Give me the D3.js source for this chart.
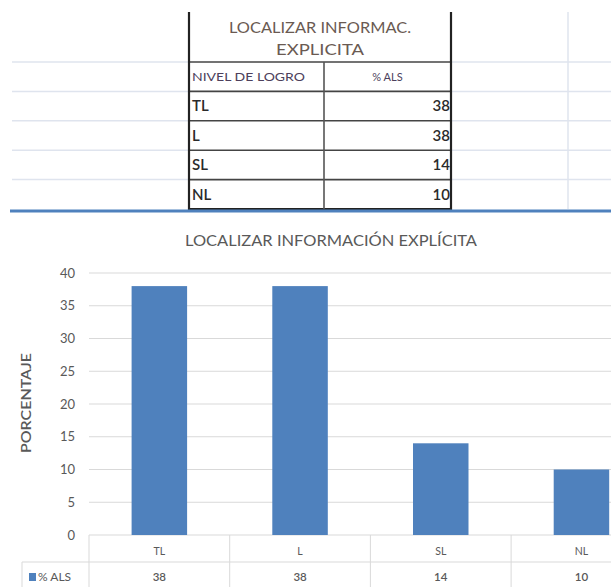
<!DOCTYPE html>
<html>
<head>
<meta charset="utf-8">
<script src="https://cdn.jsdelivr.net/npm/d3@7"></script>
<style>
  body { margin: 0; background: #fff; }
  text { font-family: Lato, "Open Sans", sans-serif; }
</style>
</head>
<body>
<div id="canva"></div>
<script>
// data
var categories = ["TL", "L", "SL", "NL"];
var values = [38, 38, 14, 10];
var seriesName = "% ALS";
var yTicks = [0, 5, 10, 15, 20, 25, 30, 35, 40];
var tableTitle = ["LOCALIZAR INFORMAC.", "EXPLICITA"];
var tableHead = ["NIVEL DE LOGRO", "% ALS"];
var chartTitle = "LOCALIZAR INFORMACIÓN EXPLÍCITA";
var yTitle = "PORCENTAJE";

var W = 611, H = 587;
var svg = d3.select("#canva").append("svg")
  .attr("width", W).attr("height", H);

// ---------- spreadsheet part ----------
var rows = d3.scaleBand().domain(["head"].concat(categories)).range([62, 209]);
var gridCol = "#dfe4ee";

// sheet gridlines
svg.selectAll(".sheetLine")
  .data(rows.domain())
  .enter().append("line")
  .attr("x1", 12).attr("x2", W)
  .attr("y1", function(d) { return rows(d); })
  .attr("y2", function(d) { return rows(d); })
  .attr("stroke", gridCol).attr("stroke-width", 1.5);
svg.append("line")
  .attr("x1", 568).attr("x2", 568).attr("y1", 12).attr("y2", 209)
  .attr("stroke", gridCol).attr("stroke-width", 1.5);

// table box
var tx0 = 189, tx1 = 451, tmid = 324;
svg.append("rect").attr("x", tx0).attr("y", 12)
  .attr("width", tx1 - tx0).attr("height", 209 - 12)
  .attr("fill", "#fff");
svg.selectAll(".rowLine")
  .data(rows.domain())
  .enter().append("line")
  .attr("x1", tx0).attr("x2", tx1)
  .attr("y1", function(d) { return rows(d); })
  .attr("y2", function(d) { return rows(d); })
  .attr("stroke", "#444").attr("stroke-width", 1.6);
svg.append("line").attr("x1", tx0).attr("x2", tx0).attr("y1", 12).attr("y2", 210)
  .attr("stroke", "#222").attr("stroke-width", 2.2);
svg.append("line").attr("x1", tx1).attr("x2", tx1).attr("y1", 12).attr("y2", 210)
  .attr("stroke", "#222").attr("stroke-width", 2.2);
svg.append("line").attr("x1", tx0).attr("x2", tx1).attr("y1", 209).attr("y2", 209)
  .attr("stroke", "#222").attr("stroke-width", 2.2);
svg.append("line").attr("x1", tmid).attr("x2", tmid).attr("y1", 62).attr("y2", 209)
  .attr("stroke", "#555").attr("stroke-width", 1.6);

svg.selectAll(".tTitle")
  .data(tableTitle)
  .enter().append("text")
  .attr("x", (tx0 + tx1) / 2)
  .attr("y", function(d, i) { return 28 + i * 22; })
  .attr("dy", "0.35em")
  .attr("text-anchor", "middle")
  .attr("font-size", 15)
  .attr("textLength", function(d, i) { return i === 0 ? 182 : 88; })
  .attr("lengthAdjust", "spacingAndGlyphs")
  .attr("fill", "#6a5a52")
  .text(function(d) { return d; });

svg.append("text").attr("x", tx0 + 3).attr("y", rows("head") + rows.bandwidth() / 2)
  .attr("dy", "0.35em").attr("font-size", 11).attr("fill", "#4d3f5c")
  .attr("textLength", 113).attr("lengthAdjust", "spacingAndGlyphs")
  .text(tableHead[0]);
svg.append("text").attr("x", (tmid + tx1) / 2).attr("y", rows("head") + rows.bandwidth() / 2)
  .attr("dy", "0.35em").attr("text-anchor", "middle").attr("font-size", 11).attr("fill", "#4d3f5c")
  .text(tableHead[1]);

svg.selectAll(".tCat")
  .data(categories)
  .enter().append("text")
  .attr("x", tx0 + 3)
  .attr("y", function(d) { return rows(d) + rows.bandwidth() / 2; })
  .attr("dy", "0.35em").attr("font-size", 15).attr("font-weight", 600).attr("fill", "#2a2a2a")
  .text(function(d) { return d; });
svg.selectAll(".tVal")
  .data(values)
  .enter().append("text")
  .attr("x", tx1 - 1)
  .attr("y", function(d, i) { return rows(categories[i]) + rows.bandwidth() / 2; })
  .attr("dy", "0.35em").attr("text-anchor", "end").attr("font-size", 15).attr("font-weight", 600).attr("fill", "#2a2a2a")
  .text(function(d) { return d; });

// blue separator line
svg.append("line").attr("x1", 10).attr("x2", W).attr("y1", 211).attr("y2", 211)
  .attr("stroke", "#4f81bd").attr("stroke-width", 3);

// ---------- chart part ----------
var x = d3.scaleBand().domain(categories).range([89, 89 + 4 * 140.7]).paddingInner(0).paddingOuter(0);
var y = d3.scaleLinear().domain([0, 40]).range([535, 273]);
var barW = 55.5;

svg.append("text")
  .attr("x", 331).attr("y", 241).attr("dy", "0.35em")
  .attr("text-anchor", "middle").attr("font-size", 15).attr("fill", "#595959")
  .attr("textLength", 292).attr("lengthAdjust", "spacingAndGlyphs")
  .text(chartTitle);

svg.selectAll(".grid")
  .data(yTicks)
  .enter().append("line")
  .attr("x1", 89).attr("x2", W)
  .attr("y1", function(d) { return y(d); })
  .attr("y2", function(d) { return y(d); })
  .attr("stroke", "#d9d9d9").attr("stroke-width", 1);

var yAxis = d3.axisLeft(y).tickValues(yTicks).tickSize(0).tickPadding(0);
var gy = svg.append("g").attr("transform", "translate(75,0)").call(yAxis);
gy.select(".domain").remove();
gy.selectAll("text").attr("font-size", 13).attr("fill", "#595959")
  .attr("font-family", "Lato, sans-serif");

svg.append("text")
  .attr("transform", "translate(26,403) rotate(-90)")
  .attr("dy", "0.35em").attr("text-anchor", "middle")
  .attr("font-size", 14).attr("font-weight", 600).attr("fill", "#595959")
  .attr("textLength", 100).attr("lengthAdjust", "spacingAndGlyphs")
  .text(yTitle);

svg.selectAll(".bar")
  .data(values)
  .enter().append("rect")
  .attr("x", function(d, i) { return x(categories[i]) + x.bandwidth() / 2 - barW / 2; })
  .attr("y", function(d) { return y(d); })
  .attr("width", barW)
  .attr("height", function(d) { return y(0) - y(d); })
  .attr("fill", "#4f81bd");

// data table under the chart
var lineCol = "#d9d9d9";
svg.append("line").attr("x1", 22).attr("x2", W).attr("y1", 562).attr("y2", 562)
  .attr("stroke", lineCol);
svg.append("line").attr("x1", 22).attr("x2", 22).attr("y1", 562).attr("y2", H)
  .attr("stroke", lineCol);
svg.selectAll(".vdiv")
  .data(categories)
  .enter().append("line")
  .attr("x1", function(d) { return x(d); })
  .attr("x2", function(d) { return x(d); })
  .attr("y1", y(0)).attr("y2", H)
  .attr("stroke", lineCol);

svg.selectAll(".catLab")
  .data(categories)
  .enter().append("text")
  .attr("x", function(d) { return x(d) + x.bandwidth() / 2; })
  .attr("y", 551).attr("dy", "0.35em").attr("text-anchor", "middle")
  .attr("font-size", 10.5).attr("fill", "#595959")
  .text(function(d) { return d; });
svg.selectAll(".valLab")
  .data(values)
  .enter().append("text")
  .attr("x", function(d, i) { return x(categories[i]) + x.bandwidth() / 2; })
  .attr("y", 577).attr("dy", "0.35em").attr("text-anchor", "middle")
  .attr("font-size", 11.5).attr("font-weight", 600).attr("fill", "#595959")
  .text(function(d) { return d; });

svg.append("rect").attr("x", 29).attr("y", 573).attr("width", 7).attr("height", 8)
  .attr("fill", "#4f81bd");
svg.append("text").attr("x", 38).attr("y", 577).attr("dy", "0.35em")
  .attr("font-size", 12).attr("fill", "#595959")
  .text(seriesName);
</script>
</body>
</html>
